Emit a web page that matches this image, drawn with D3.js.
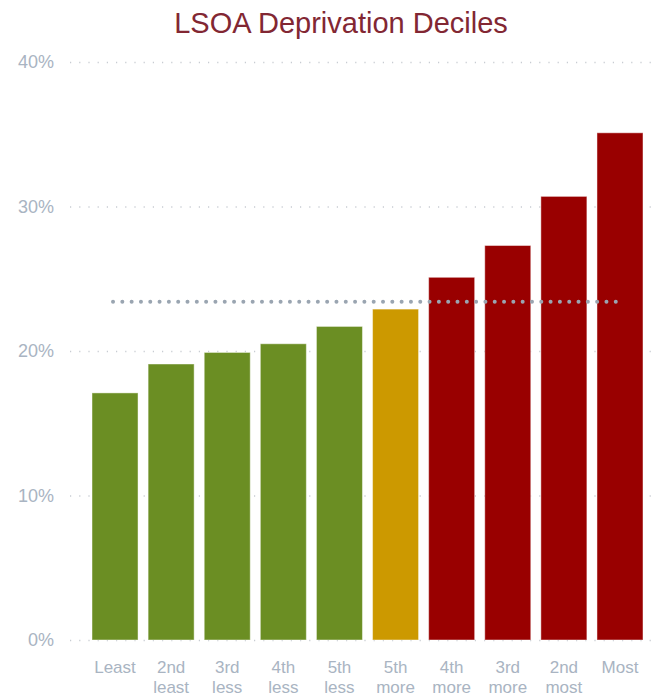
<!DOCTYPE html>
<html>
<head>
<meta charset="utf-8">
<script src="https://cdn.jsdelivr.net/npm/d3@7"></script>
<style>
  html, body { margin: 0; padding: 0; background: #fff; }
  svg { display: block; font-family: "Liberation Sans", Arial, sans-serif; }
</style>
</head>
<body>
<svg id="chart" width="654" height="697"></svg>
<script>
// Deprivation deciles, least to most deprived
const categories = [
  ["Least"], ["2nd", "least"], ["3rd", "less"], ["4th", "less"], ["5th", "less"],
  ["5th", "more"], ["4th", "more"], ["3rd", "more"], ["2nd", "most"], ["Most"]
];
const values = [17.1, 19.1, 19.9, 20.5, 21.7, 22.9, 25.1, 27.3, 30.7, 35.1];
const groups = ["less", "less", "less", "less", "less", "mid", "more", "more", "more", "more"];
const averageValue = 23.4;
const yTicks = [0, 10, 20, 30, 40];

const colours = { less: "#6b8e23", mid: "#cc9900", more: "#990000" };

const svg = d3.select("#chart");
const keys = categories.map(c => c.join(" "));

const x = d3.scaleBand()
  .domain(keys)
  .range([86.4, 648.6])
  .paddingInner(0.18)
  .paddingOuter(0.1);

const y = d3.scaleLinear().domain([0, 40]).range([640, 62]);

// Title
svg.append("text")
  .attr("x", 341)
  .attr("y", 33)
  .attr("text-anchor", "middle")
  .attr("font-size", 29)
  .attr("fill", "#822733")
  .text("LSOA Deprivation Deciles");

// Y axis with dotted gridlines
const yAxis = svg.append("g")
  .attr("transform", "translate(70,0)")
  .call(d3.axisLeft(y).tickValues(yTicks).tickFormat(d => d + "%").tickSize(-584).tickPadding(16));
yAxis.select(".domain").remove();
yAxis.selectAll(".tick line")
  .attr("stroke", "#c8ccd2")
  .attr("stroke-width", 1.4)
  .attr("stroke-dasharray", "1.2 8");
yAxis.selectAll(".tick text")
  .attr("fill", "#a9b4c2")
  .attr("font-size", 18)
  .attr("font-family", "Liberation Sans, Arial, sans-serif");

// Bars
svg.append("g")
  .selectAll("rect")
  .data(values)
  .join("rect")
  .attr("x", (d, i) => x(keys[i]))
  .attr("y", d => y(d))
  .attr("width", x.bandwidth())
  .attr("height", d => y(0) - y(d))
  .attr("fill", (d, i) => colours[groups[i]])
  .attr("stroke", "rgba(255,255,255,0.45)")
  .attr("stroke-width", 1);

// Average reference line across band centres
svg.append("line")
  .attr("x1", x(keys[0]) + x.bandwidth() / 2 - 2)
  .attr("x2", x(keys[keys.length - 1]) + x.bandwidth() / 2 - 2)
  .attr("y1", y(averageValue))
  .attr("y2", y(averageValue))
  .attr("stroke", "#9aa5b1")
  .attr("stroke-width", 4)
  .attr("stroke-linecap", "round")
  .attr("stroke-dasharray", "0.01 9.3");

// Category labels
const labels = svg.append("g")
  .selectAll("text")
  .data(categories)
  .join("text")
  .attr("x", (d, i) => x(keys[i]) + x.bandwidth() / 2)
  .attr("y", 672.5)
  .attr("text-anchor", "middle")
  .attr("font-size", 17)
  .attr("fill", "#a9b4c2");
labels.selectAll("tspan")
  .data(d => d)
  .join("tspan")
  .attr("x", function () { return d3.select(this.parentNode).attr("x"); })
  .attr("dy", (d, i) => i === 0 ? 0 : 20.7)
  .text(d => d);
</script>
</body>
</html>
